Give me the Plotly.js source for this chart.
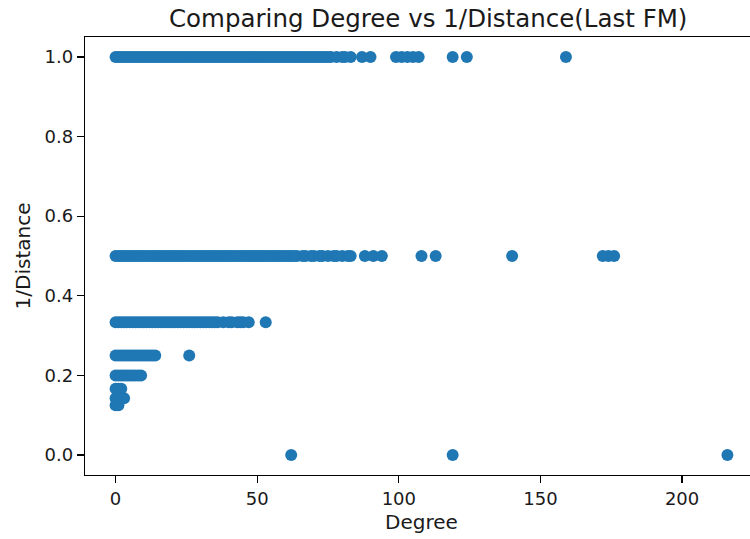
<!DOCTYPE html>
<html>
<head>
<meta charset="utf-8">
<script src="https://cdn.plot.ly/plotly-3.0.1.min.js"></script>
<style>
  html, body { margin: 0; padding: 0; overflow: hidden; background: #fff; }
  #chart { width: 760px; height: 539px; }
</style>
</head>
<body>
<div id="chart"></div>
<script>
// Degree values, grouped by 1/Distance level
const degDist1 = [0,1,2,3,4,5,6,7,8,9,10,11,12,13,14,15,16,17,18,19,20,21,22,23,24,25,26,27,28,29,30,31,32,33,34,35,36,37,38,39,40,41,42,43,44,45,46,47,48,49,50,51,52,53,54,55,56,57,58,59,60,61,62,63,64,65,66,67,68,69,70,71,72,73,74,75,76,78,80,81,83,87,90,99,101,103,105,107,119,124,159];
const degDist2 = [0,1,2,3,4,5,6,7,8,9,10,11,12,13,14,15,16,17,18,19,20,21,22,23,24,25,26,27,28,29,30,31,32,33,34,35,36,37,38,39,40,41,42,43,44,45,46,47,48,49,50,51,52,53,54,55,56,57,58,59,60,61,62,63,64,66,67,69,70,72,73,75,77,78,80,82,83,88,91,94,108,113,140,172,174,176];
const degDist3 = [0,1,2,3,4,5,6,7,8,9,10,11,12,13,14,15,16,17,18,19,20,21,22,23,24,25,26,27,28,29,30,31,32,33,34,35,36,38,40,41,43,44,45,47,53];
const degDist4 = [0,1,2,3,4,5,6,7,8,9,10,11,12,13,14,26];
const degDist5 = [0,1,2,3,4,5,6,7,8,9];
const degDist6 = [0,1,2];
const degDist7 = [0,1,2,3];
const degDist8 = [0,1];
const degDistInf = [62,119,216];

const levels = [1, 0.5, 1/3, 0.25, 0.2, 1/6, 1/7, 0.125, 0];
const groups = [degDist1, degDist2, degDist3, degDist4, degDist5, degDist6, degDist7, degDist8, degDistInf];

const xs = [], ys = [];
groups.forEach((g, i) => g.forEach(d => { xs.push(d); ys.push(levels[i]); }));

const xTicks = [0, 50, 100, 150, 200];
const yTicks = [0.0, 0.2, 0.4, 0.6, 0.8, 1.0];

const font = { family: 'DejaVu Sans, sans-serif', color: '#1a1a1a' };

const trace = {
  type: 'scatter',
  mode: 'markers',
  x: xs,
  y: ys,
  marker: { color: '#1f77b4', size: 12, line: { width: 0 } },
  hoverinfo: 'skip'
};

const axisCommon = {
  showgrid: false,
  zeroline: false,
  showline: true,
  mirror: true,
  linecolor: '#000',
  linewidth: 1.3,
  ticks: 'outside',
  ticklen: 7,
  tickwidth: 1.3,
  tickcolor: '#000',
  tickfont: { family: font.family, size: 18, color: font.color }
};

const layout = {
  width: 760,
  height: 539,
  margin: { l: 85, r: 2, t: 37, b: 64 },
  paper_bgcolor: '#fff',
  plot_bgcolor: '#fff',
  showlegend: false,
  title: {
    text: 'Comparing Degree vs 1/Distance(Last FM)',
    font: { family: font.family, size: 24.5, color: font.color },
    xref: 'paper', x: 0.51, xanchor: 'center',
    yref: 'container', y: 1 - 18/539, yanchor: 'middle'
  },
  xaxis: Object.assign({}, axisCommon, {
    range: [-10.8, 226.8],
    tickvals: xTicks,
    ticktext: xTicks.map(String),
    title: { text: 'Degree', font: { family: font.family, size: 20, color: font.color }, standoff: 7 }
  }),
  yaxis: Object.assign({}, axisCommon, {
    range: [-0.05, 1.05],
    tickvals: yTicks,
    ticktext: yTicks.map(v => v.toFixed(1)),
    title: { text: '1/Distance', font: { family: font.family, size: 20, color: font.color }, standoff: 8 }
  })
};

Plotly.newPlot('chart', [trace], layout, { staticPlot: true, displayModeBar: false });
</script>
</body>
</html>
